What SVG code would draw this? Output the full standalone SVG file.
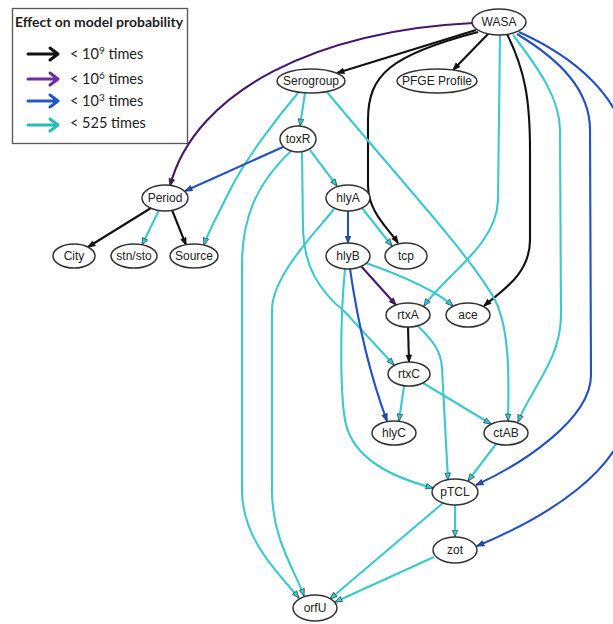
<svg xmlns="http://www.w3.org/2000/svg" width="613" height="624" viewBox="0 0 613 624">
<style>
.node ellipse{fill:#fff;stroke:#333;stroke-width:1.5}
.node text{font-family:"Liberation Sans",Arial,sans-serif;font-size:12px;fill:#222;text-anchor:middle}
.e{fill:none;stroke-width:2.1}
.k{stroke:#111;marker-end:url(#mk)}
.p{stroke:#44186f;marker-end:url(#mp)}
.b{stroke:#2350c4;marker-end:url(#mb)}
.c{stroke:#3cc8cf;marker-end:url(#mc)}
.lg{font-family:Lato,"Liberation Sans",sans-serif;fill:#222}
.la{fill:none;stroke-width:3;stroke-linecap:round;stroke-linejoin:round}
</style>
<defs>
<marker id="mk" viewBox="0 0 10 10" refX="10" refY="5" markerWidth="8" markerHeight="7" markerUnits="userSpaceOnUse" orient="auto"><path d="M0,1 L10,5 L0,9 z" fill="#111" stroke="#111" stroke-width="1"/></marker>
<marker id="mp" viewBox="0 0 10 10" refX="10" refY="5" markerWidth="8" markerHeight="7" markerUnits="userSpaceOnUse" orient="auto"><path d="M0,1 L10,5 L0,9 z" fill="#44186f" stroke="#222" stroke-width="1"/></marker>
<marker id="mb" viewBox="0 0 10 10" refX="10" refY="5" markerWidth="8" markerHeight="7" markerUnits="userSpaceOnUse" orient="auto"><path d="M0,1 L10,5 L0,9 z" fill="#2350c4" stroke="#1a2a66" stroke-width="1"/></marker>
<marker id="mc" viewBox="0 0 10 10" refX="10" refY="5" markerWidth="8" markerHeight="7" markerUnits="userSpaceOnUse" orient="auto"><path d="M0,1 L10,5 L0,9 z" fill="#3cc8cf" stroke="#245" stroke-width="1"/></marker>
</defs>

<g id="legend">
<rect x="12.5" y="8.5" width="175" height="135" fill="#fff" stroke="#555" stroke-width="1.3"/>
<text class="lg" x="15" y="27" font-size="13.5" font-weight="bold" textLength="168" lengthAdjust="spacingAndGlyphs">Effect on model probability</text>
<path class="la" stroke="#111" d="M28,54 L58,54 M50,48 L58,54 L50,60"/>
<path class="la" stroke="#6a2fa0" d="M28,79 L58,79 M50,73 L58,79 L50,85"/>
<path class="la" stroke="#2356c6" d="M28,101 L58,101 M50,95 L58,101 L50,107"/>
<path class="la" stroke="#27bcb8" d="M28,125 L58,125 M50,119 L58,125 L50,131"/>
<text class="lg" x="70" y="59" font-size="14.5">&lt; 10<tspan dy="-5" font-size="10">9</tspan><tspan dy="5"> times</tspan></text>
<text class="lg" x="70" y="84" font-size="14.5">&lt; 10<tspan dy="-5" font-size="10">6</tspan><tspan dy="5"> times</tspan></text>
<text class="lg" x="70" y="106" font-size="14.5">&lt; 10<tspan dy="-5" font-size="10">3</tspan><tspan dy="5"> times</tspan></text>
<text class="lg" x="70" y="128" font-size="14.5">&lt; 525 times</text>
</g>

<g id="connectors">
<path class="e k" d="M476,30 L337,73"/>
<path class="e k" d="M489,33 L453,70"/>
<path class="e p" d="M473,23 C320,30 195,90 170,186"/>
<path class="e k" d="M478,32 C390,55 368,75 368,120 L368,185 C368,212 388,228 398,243"/>
<path class="e k" d="M507,34 C525,70 530,100 530,150 L530,240 C530,275 500,292 484,306"/>
<path class="e c" d="M500,34 L498,200 C497,245 445,275 424,306"/>
<path class="e c" d="M513,35 C540,70 560,100 560,130 L561,315 C561,360 530,390 518,422"/>
<path class="e c" d="M327,92 C400,180 470,255 495,300 C510,330 509,380 508,421"/>
<path class="e b" d="M517,34 C560,60 590,90 590,130 L591,375 C591,420 520,465 476,485"/>
<path class="e b" d="M519,32 C570,55 625,95 630,160 L630,400 C630,470 540,520 477,546"/>
<path class="e c" d="M305,93 L300,126"/>
<path class="e c" d="M298,93 C275,120 245,160 230,190 C218,215 208,232 204,245"/>
<path class="e b" d="M283,147 L185,191"/>
<path class="e c" d="M310,150 L337,186"/>
<path class="e c" d="M291,151 C255,185 242,220 242,265 L242,490 C242,540 280,575 299,598"/>
<path class="e c" d="M334,209 C318,230 272,275 272,310 L272,490 C272,540 295,570 304,596"/>
<path class="e c" d="M302,152 L303,230 C304,265 318,290 345,312 L394,365"/>
<path class="e b" d="M348,211 L348,243"/>
<path class="e c" d="M362,208 L392,246"/>
<path class="e p" d="M361,266 L396,305"/>
<path class="e c" d="M366,263 C400,275 435,290 453,306"/>
<path class="e b" d="M350,269 C356,310 368,370 387,421"/>
<path class="e c" d="M345,269 C340,320 340,390 345,420 C352,460 395,478 433,488"/>
<path class="e k" d="M408,327 L409,362"/>
<path class="e c" d="M418,326 C432,340 441,350 442,368 L448,480"/>
<path class="e c" d="M404,386 L399,421"/>
<path class="e c" d="M423,383 L491,424"/>
<path class="e c" d="M496,444 L468,481"/>
<path class="e c" d="M455,505 L455,537"/>
<path class="e c" d="M443,503 L330,599"/>
<path class="e c" d="M434,557 L335,602"/>
<path class="e k" d="M151,208 L88,247"/>
<path class="e c" d="M159,210 L142,245"/>
<path class="e k" d="M172,210 L186,245"/>
</g>

<g id="WASA" class="node"><ellipse cx="499" cy="22" rx="27" ry="13"/><text x="499" y="26">WASA</text></g>
<g id="Serogroup" class="node"><ellipse cx="311" cy="81" rx="34" ry="12"/><text x="311" y="85">Serogroup</text></g>
<g id="PFGE" class="node"><ellipse cx="437" cy="81" rx="40" ry="12"/><text x="437" y="85">PFGE Profile</text></g>
<g id="toxR" class="node"><ellipse cx="298" cy="139" rx="18" ry="13"/><text x="298" y="143">toxR</text></g>
<g id="Period" class="node"><ellipse cx="165" cy="198" rx="23" ry="13"/><text x="165" y="202">Period</text></g>
<g id="hlyA" class="node"><ellipse cx="348" cy="198" rx="22" ry="13"/><text x="348" y="202">hlyA</text></g>
<g id="City" class="node"><ellipse cx="74" cy="256" rx="21" ry="12"/><text x="74" y="260">City</text></g>
<g id="stnsto" class="node"><ellipse cx="134" cy="256" rx="23" ry="12"/><text x="134" y="260">stn/sto</text></g>
<g id="Source" class="node"><ellipse cx="194" cy="256" rx="24" ry="12"/><text x="194" y="260">Source</text></g>
<g id="hlyB" class="node"><ellipse cx="348" cy="256" rx="22" ry="13"/><text x="348" y="260">hlyB</text></g>
<g id="tcp" class="node"><ellipse cx="406" cy="256" rx="21" ry="13"/><text x="406" y="260">tcp</text></g>
<g id="rtxA" class="node"><ellipse cx="408" cy="315" rx="22" ry="12"/><text x="408" y="319">rtxA</text></g>
<g id="ace" class="node"><ellipse cx="468" cy="315" rx="22" ry="12"/><text x="468" y="319">ace</text></g>
<g id="rtxC" class="node"><ellipse cx="409" cy="374" rx="21" ry="12"/><text x="409" y="378">rtxC</text></g>
<g id="hlyC" class="node"><ellipse cx="394" cy="433" rx="22" ry="12"/><text x="394" y="437">hlyC</text></g>
<g id="ctAB" class="node"><ellipse cx="506" cy="433" rx="22" ry="12"/><text x="506" y="437">ctAB</text></g>
<g id="pTCL" class="node"><ellipse cx="455" cy="492" rx="23" ry="13"/><text x="455" y="496">pTCL</text></g>
<g id="zot" class="node"><ellipse cx="455" cy="550" rx="22" ry="13"/><text x="455" y="554">zot</text></g>
<g id="orfU" class="node"><ellipse cx="315" cy="608" rx="22" ry="13"/><text x="315" y="612">orfU</text></g>
</svg>
